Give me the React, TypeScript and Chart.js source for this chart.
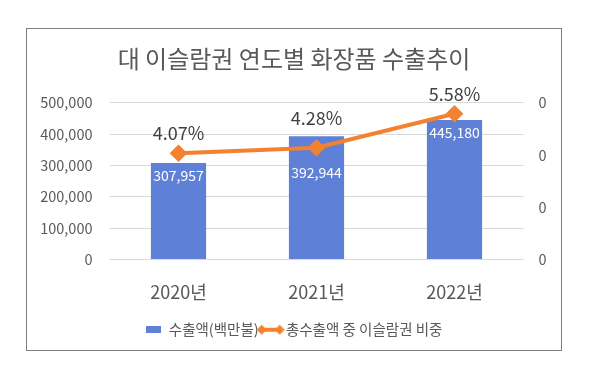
import React, { useEffect, useRef } from "react";
import { Chart, registerables } from "chart.js";

Chart.register(...registerables);

const categories = ["2020년", "2021년", "2022년"];
const exportValues = [307957, 392944, 445180];
const shareValues = [0.0407, 0.0428, 0.0558];
const leftTicks = [0, 100000, 200000, 300000, 400000, 500000];
const rightTicks = [0, 0.02, 0.04, 0.06];
const barLabel = "수출액(백만불)";
const lineLabel = "총수출액 중 이슬람권 비중";
const titleText = "대 이슬람권 연도별 화장품 수출추이";

const FONT = "'Noto Sans CJK KR', 'Noto Sans', sans-serif";
const BAR_COLOR = "#5F80D7";
const LINE_COLOR = "#F4812F";
const TEXT_COLOR = "#595959";

function makeBarIcon(): HTMLCanvasElement {
  const c = document.createElement("canvas");
  c.width = 15;
  c.height = 7;
  const g = c.getContext("2d")!;
  g.fillStyle = BAR_COLOR;
  g.fillRect(0, 0, 15, 7);
  return c;
}

function makeLineIcon(): HTMLCanvasElement {
  const c = document.createElement("canvas");
  c.width = 28;
  c.height = 12;
  const g = c.getContext("2d")!;
  g.strokeStyle = LINE_COLOR;
  g.lineWidth = 4;
  g.beginPath();
  g.moveTo(5, 6);
  g.lineTo(23, 6);
  g.stroke();
  g.fillStyle = LINE_COLOR;
  [5, 23].forEach((cx) => {
    g.beginPath();
    g.moveTo(cx, 1);
    g.lineTo(cx + 5, 6);
    g.lineTo(cx, 11);
    g.lineTo(cx - 5, 6);
    g.closePath();
    g.fill();
  });
  return c;
}

const labelPlugin = {
  id: "valueLabels",
  afterDatasetsDraw(chart: any) {
    const ctx = chart.ctx;
    const barMeta = chart.getDatasetMeta(0);
    const lineMeta = chart.getDatasetMeta(1);
    ctx.save();
    ctx.textAlign = "center";
    ctx.textBaseline = "middle";
    ctx.font = `14px ${FONT}`;
    ctx.fillStyle = "#ffffff";
    barMeta.data.forEach((bar: any, i: number) => {
      const pt = lineMeta.data[i];
      let y = bar.y + 13;
      if (Math.abs(y - pt.y) < 16) y = pt.y + 25;
      ctx.fillText(exportValues[i].toLocaleString("en-US"), bar.x, y);
    });
    ctx.font = `18px ${FONT}`;
    ctx.fillStyle = "#404040";
    lineMeta.data.forEach((pt: any, i: number) => {
      const barTop = barMeta.data[i].y;
      const y = Math.min(pt.y - 20, barTop - 18);
      ctx.fillText((shareValues[i] * 100).toFixed(2) + "%", pt.x, y);
    });
    ctx.restore();
  },
};

export default function App() {
  const canvasRef = useRef<HTMLCanvasElement | null>(null);

  useEffect(() => {
    if (!canvasRef.current) return;
    const barIcon = makeBarIcon();
    const lineIcon = makeLineIcon();
    const chart = new Chart(canvasRef.current, {
      type: "bar",
      data: {
        labels: categories,
        datasets: [
          {
            type: "bar",
            label: barLabel,
            data: exportValues,
            backgroundColor: BAR_COLOR,
            yAxisID: "y",
            barPercentage: 0.4,
            categoryPercentage: 1,
            order: 2,
          },
          {
            type: "line",
            label: lineLabel,
            data: shareValues,
            borderColor: LINE_COLOR,
            backgroundColor: LINE_COLOR,
            borderWidth: 4,
            pointStyle: "rectRot",
            pointRadius: 6,
            pointBackgroundColor: LINE_COLOR,
            pointBorderColor: LINE_COLOR,
            yAxisID: "y1",
            order: 1,
            tension: 0,
          } as any,
        ],
      },
      options: {
        responsive: false,
        animation: false,
        layout: { padding: { top: 10, left: 0, right: 0, bottom: 3 } },
        plugins: {
          title: {
            display: true,
            text: titleText,
            color: TEXT_COLOR,
            font: { family: FONT, size: 24, weight: "normal" as any },
            padding: { top: 5, bottom: 30 },
          },
          legend: {
            position: "bottom",
            labels: {
              usePointStyle: true,
              pointStyleWidth: 16,
              boxHeight: 14,
              padding: 4,
              color: TEXT_COLOR,
              font: { family: FONT, size: 14.5 },
              generateLabels: (chart: any) => {
                const items = Chart.defaults.plugins.legend.labels.generateLabels(chart);
                items.sort((a: any, b: any) => a.datasetIndex - b.datasetIndex);
                items.forEach((it: any) => {
                  it.pointStyle = it.datasetIndex === 0 ? barIcon : lineIcon;
                });
                return items;
              },
            },
          },
          tooltip: { enabled: false },
        },
        scales: {
          x: {
            grid: { display: false, drawTicks: false },
            border: { display: false },
            ticks: {
              color: TEXT_COLOR,
              font: { family: FONT, size: 18 },
              padding: 22,
            },
            afterFit: (axis: any) => {
              axis.height = 59;
            },
          },
          y: {
            position: "left",
            min: leftTicks[0],
            max: leftTicks[leftTicks.length - 1],
            afterBuildTicks: (axis: any) => {
              axis.ticks = leftTicks.map((v) => ({ value: v }));
            },
            afterFit: (axis: any) => {
              axis.width = 82.5;
            },
            grid: { color: "#d9d9d9", drawTicks: false },
            border: { display: false },
            ticks: {
              color: TEXT_COLOR,
              font: { family: FONT, size: 14.5 },
              padding: 17,
              callback: (v: any) => Number(v).toLocaleString("en-US"),
            },
          },
          y1: {
            position: "right",
            min: rightTicks[0],
            max: rightTicks[rightTicks.length - 1],
            afterBuildTicks: (axis: any) => {
              axis.ticks = rightTicks.map((v) => ({ value: v }));
            },
            afterFit: (axis: any) => {
              axis.width = 37.5;
            },
            grid: { display: false, drawTicks: false },
            border: { display: false },
            ticks: {
              color: TEXT_COLOR,
              font: { family: FONT, size: 14.5 },
              padding: 15,
              callback: (v: any) => Math.round(Number(v)).toString(),
            },
          },
        },
      },
      plugins: [labelPlugin],
    });
    return () => chart.destroy();
  }, []);

  return (
    <div
      style={{
        marginLeft: 18,
        marginTop: 20,
        width: 534,
        height: 321,
        border: "1px solid #7f7f7f",
        background: "#fff",
      }}
    >
      <canvas ref={canvasRef} width={534} height={321} style={{ display: "block" }} />
    </div>
  );
}
